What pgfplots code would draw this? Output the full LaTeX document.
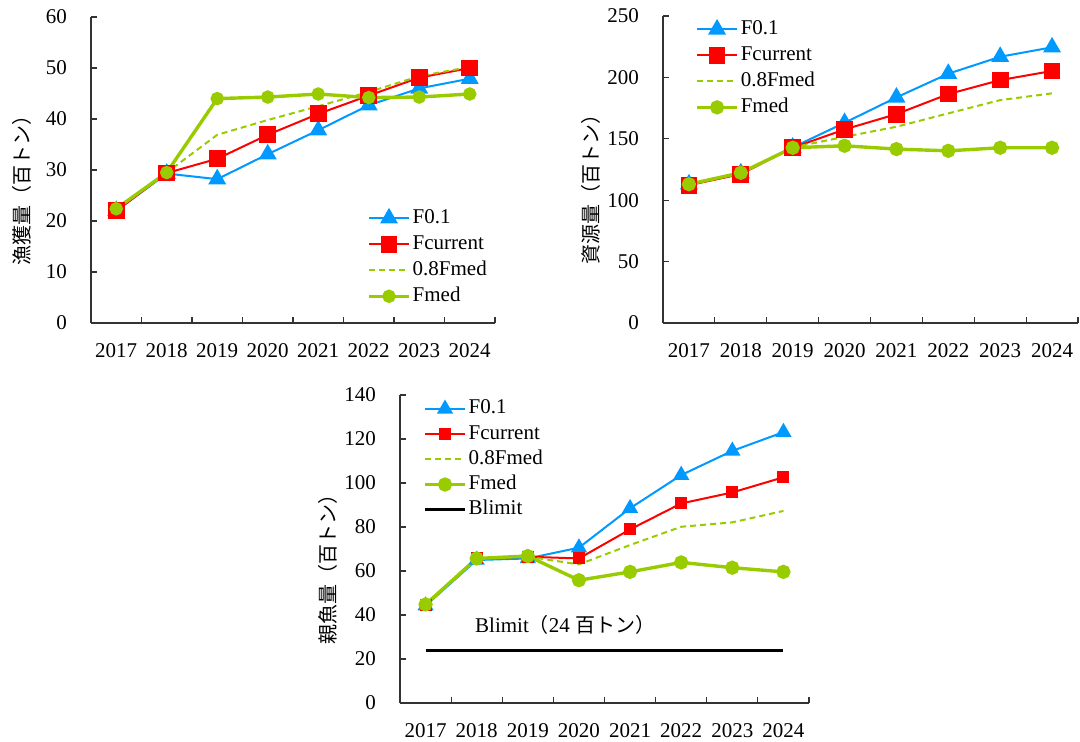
\documentclass[border=0pt]{standalone}
\usepackage{fontspec}
\setmainfont{Liberation Serif}
\newfontfamily\cjk{Noto Sans CJK JP}
\usepackage{pgfplots}
\pgfplotsset{compat=1.18}

\definecolor{cF}{RGB}{0,153,255}
\definecolor{cC}{RGB}{255,0,0}
\definecolor{cM}{RGB}{153,204,0}

\pgfplotsset{
  fish/.style={
    scale only axis,
    axis lines*=left,
    axis line style={black!80, line width=0.7pt},
    xmin=-0.5, xmax=7.5, ymin=0,
    xtick={-0.5,0.5,...,7.5},
    x tick label as interval,
    xticklabels={2017,2018,2019,2020,2021,2022,2023,2024},
    tick align=inside,
    tick style={black!80, line width=0.6pt},
    major tick length=3pt,
    /pgf/number format/assume math mode=true,
    ticklabel style={font=\fontsize{10.5}{12}\selectfont},
    xticklabel style={yshift=-6.5pt},
    yticklabel style={xshift=-8.5pt},
    ylabel style={anchor=center, font=\cjk\fontsize{10}{12}\selectfont},
    legend cell align=left,
    legend style={draw=none, fill=none, anchor=north west, inner sep=0pt,
      font=\fontsize{10.5}{12}\selectfont, row sep=0pt,
      nodes={inner sep=1pt, text height=8pt, text depth=3pt}},
    legend image code/.code={\draw[mark repeat=2,mark phase=2,##1]
      plot coordinates {(0pt,0pt) (10pt,0pt) (20pt,0pt)};},
  },
  sF/.style={cF, line width=1pt, mark=triangle*, mark size=#1, mark options={solid}},
  sC/.style={cC, line width=1pt, mark=square*, mark size=#1, mark options={solid}},
  sD/.style={cM, line width=1pt, dash pattern=on 3pt off 2pt, no marks},
  sM/.style={cM, line width=1.7pt, mark=*, mark size=#1, mark options={solid}},
}

\begin{document}
\begin{tikzpicture}
\useasboundingbox (0,0) rectangle (540pt,371pt);

% catch
\begin{axis}[fish, at={(45.5pt,209.5pt)}, anchor=south west,
  width=202pt, height=153pt,
  ymax=60, ytick={0,10,...,60},
  ylabel={漁獲量（百トン）},
  ylabel style={at={(axis description cs:-0.171,0.45)}},
  legend style={at={(0.683,0.386)}}]
\addplot[sF=4.2pt] coordinates {(0,22.0) (1,29.3) (2,28.2) (3,33.1) (4,37.8) (5,42.7) (6,46.0) (7,47.9)};
\addplot[sC=3.7pt] coordinates {(0,22.0) (1,29.4) (2,32.2) (3,36.9) (4,41.0) (5,44.6) (6,48.1) (7,50.0)};
\addplot[sD] coordinates {(0,22.3) (1,29.5) (2,36.9) (3,39.8) (4,42.5) (5,45.3) (6,48.4) (7,50.2)};
\addplot[sM=2.5pt] coordinates {(0,22.4) (1,29.5) (2,44.0) (3,44.3) (4,44.9) (5,44.2) (6,44.3) (7,44.9)};
\legend{F0.1,Fcurrent,0.8Fmed,Fmed}
\end{axis}

% stock biomass
\begin{axis}[fish, at={(331.5pt,209.5pt)}, anchor=south west,
  width=207.5pt, height=153.5pt,
  ymax=250, ytick={0,50,...,250},
  ylabel={資源量（百トン）},
  ylabel style={at={(axis description cs:-0.173,0.45)}},
  legend style={at={(0.077,1.0)}}]
\addplot[sF=4.2pt] coordinates {(0,113) (1,122) (2,143) (3,163) (4,183.7) (5,203) (6,216.8) (7,224.5)};
\addplot[sC=3.7pt] coordinates {(0,112.2) (1,121.2) (2,142.7) (3,157.6) (4,170.1) (5,186.4) (6,197.8) (7,205.2)};
\addplot[sD] coordinates {(0,113) (1,122) (2,143) (3,151.6) (4,159.8) (5,170.7) (6,181.5) (7,187)};
\addplot[sM=2.7pt] coordinates {(0,113) (1,122.3) (2,142.7) (3,144.3) (4,141.6) (5,140.2) (6,142.7) (7,142.7)};
\legend{F0.1,Fcurrent,0.8Fmed,Fmed}
\end{axis}

% spawning stock biomass
\begin{axis}[fish, at={(200pt,19.5pt)}, anchor=south west,
  width=204.5pt, height=154pt,
  ymax=140, ytick={0,20,...,140},
  ylabel={親魚量（百トン）},
  ylabel style={at={(axis description cs:-0.177,0.45)}},
  legend style={at={(0.056,0.997)}, nodes={text height=7.8pt, text depth=2.8pt}}]
\addplot[sF=3.7pt] coordinates {(0,44.2) (1,65.0) (2,65.7) (3,70.6) (4,88.5) (5,103.6) (6,114.6) (7,123.1)};
\addplot[sC=2.5pt] coordinates {(0,44.5) (1,65.7) (2,66.5) (3,65.7) (4,78.9) (5,90.7) (6,95.7) (7,102.6)};
\addplot[sD] coordinates {(0,44.5) (1,65.7) (2,66.5) (3,63.0) (4,71.8) (5,80.1) (6,82.1) (7,87.3)};
\addplot[sM=2.7pt] coordinates {(0,44.8) (1,65.7) (2,66.8) (3,55.8) (4,59.6) (5,63.9) (6,61.5) (7,59.6)};
\addplot[black, line width=1.5pt] coordinates {(0,24) (7,24)};
\legend{F0.1,Fcurrent,0.8Fmed,Fmed,Blimit}
\node[font=\fontsize{10.5}{12}\selectfont] at (axis cs:2.73,35.5)
  {Blimit{\cjk\fontsize{10}{12}\selectfont（}24 {\cjk\fontsize{10}{12}\selectfont 百トン）}};
\end{axis}
\end{tikzpicture}
\end{document}
